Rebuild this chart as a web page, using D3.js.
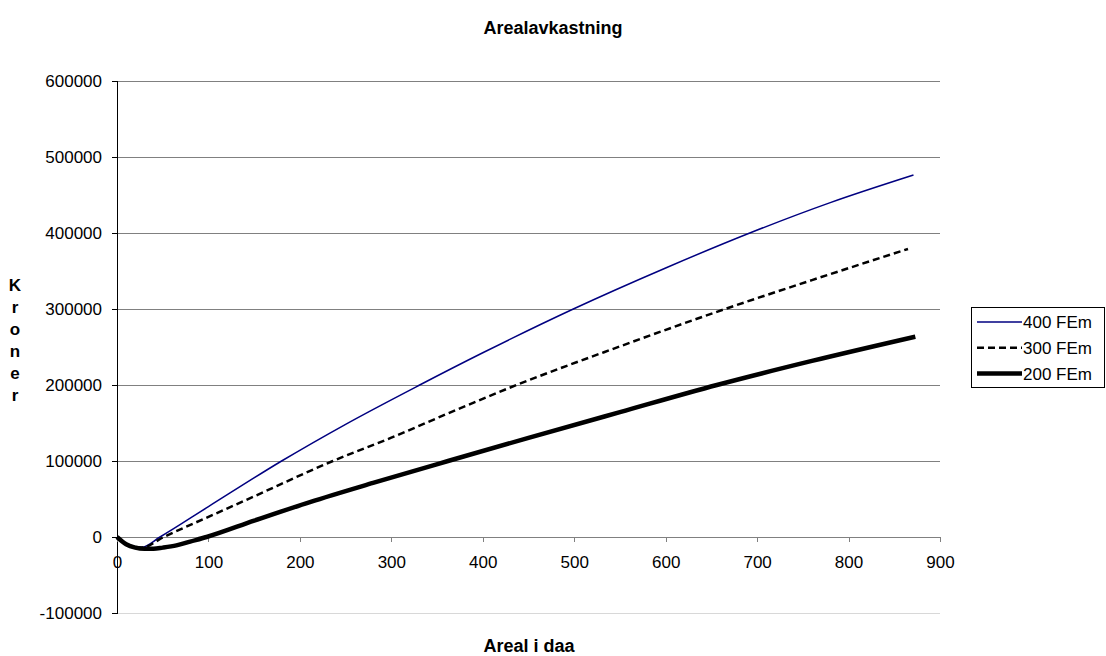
<!DOCTYPE html>
<html><head><meta charset="utf-8">
<script src="https://cdn.jsdelivr.net/npm/d3@7"></script>
<style>body{margin:0;background:#fff}svg{display:block}text{font-family:"Liberation Sans",Arial,sans-serif}</style>
</head><body><svg id="c" width="1106" height="656"></svg>
<script>
const title = "Arealavkastning";
const xTitle = "Areal i daa";
const yTitle = "Kroner";
const xTicks = [0,100,200,300,400,500,600,700,800,900];
const yTicks = [-100000,0,100000,200000,300000,400000,500000,600000];
const seriesNames = ["400 FEm","300 FEm","200 FEm"];
const x400 = [0,10,20,27,47,100,180,250,331,400,499,600,692,780,871];
const y400 = [0,-9000,-13000,-13500,0,40000,100000,148300,200000,242400,300000,354000,400000,440000,476300];
const x300 = [0,10,20,27,51,100,150,236,300,375,437,550,665,760,865];
const y300 = [0,-9000,-13000,-14000,0,26500,53500,100000,130700,169300,200000,250800,300000,338000,379000];
const x200 = [0,10,20,30,40,50,65,80,98,150,211,280,362,450,550,656,760,873];
const y200 = [0,-9500,-14000,-15500,-15500,-14000,-11000,-6000,0,21500,46000,71200,100000,130400,164300,200000,231700,263600];

const svg = d3.select("#c");
const x = d3.scaleLinear().domain([0,900]).range([117,940]);
const y = d3.scaleLinear().domain([-100000,600000]).range([613,81]);
const fmt = v => String(v);

// gridlines
svg.append("g").selectAll("line").data(yTicks.filter(v=>v>-100000)).join("line")
  .attr("x1",x(0)).attr("x2",x(900)).attr("y1",d=>y(d)).attr("y2",d=>y(d))
  .attr("stroke","#808080").attr("stroke-width",1).attr("shape-rendering","crispEdges");
svg.append("line").attr("x1",x(0)).attr("x2",x(900)).attr("y1",y(-100000)).attr("y2",y(-100000))
  .attr("stroke","#d8d8d8").attr("shape-rendering","crispEdges");

// y axis
const ya = svg.append("g").attr("transform",`translate(${x(0)},0)`)
  .call(d3.axisLeft(y).tickValues(yTicks).tickSize(5).tickPadding(10).tickFormat(fmt));
ya.select(".domain").attr("stroke","#000").attr("shape-rendering","crispEdges");
ya.selectAll(".tick line").attr("stroke","#000").attr("shape-rendering","crispEdges");
ya.selectAll("text").attr("font-size",17).attr("fill","#000").style("font-family","Liberation Sans, Arial");

// x axis at y=0
const xa = svg.append("g").attr("transform",`translate(0,${y(0)})`)
  .call(d3.axisBottom(x).tickValues(xTicks).tickSize(5).tickPadding(14).tickFormat(fmt));
xa.select(".domain").attr("stroke","#808080").attr("shape-rendering","crispEdges");
xa.selectAll(".tick line").attr("stroke","#808080").attr("shape-rendering","crispEdges");
xa.selectAll("text").attr("font-size",17).attr("fill","#000").style("font-family","Liberation Sans, Arial");

const line = d3.line().x(d=>x(d[0])).y(d=>y(d[1])).curve(d3.curveMonotoneX);
const s400 = x400.map((v,i)=>[v,y400[i]]);
const s300 = x300.map((v,i)=>[v,y300[i]]);
const s200 = x200.map((v,i)=>[v,y200[i]]);
const styles = [
  {stroke:"#000080", width:1.5, dash:null},
  {stroke:"#000", width:2.5, dash:"7,4"},
  {stroke:"#000", width:4.5, dash:null}
];
[s400,s300,s200].forEach((s,i)=>{
  svg.append("path").datum(s).attr("d",line).attr("fill","none")
    .attr("stroke",styles[i].stroke).attr("stroke-width",styles[i].width)
    .attr("stroke-dasharray",styles[i].dash);
});

// titles
svg.append("text").attr("x",553).attr("y",34).attr("text-anchor","middle")
  .attr("font-size",18).attr("font-weight","bold").text(title);
svg.append("text").attr("x",529).attr("y",652).attr("text-anchor","middle")
  .attr("font-size",18).attr("font-weight","bold").text(xTitle);
svg.append("g").selectAll("text").data(yTitle.split("")).join("text")
  .attr("x",15).attr("y",(d,i)=>291+i*22).attr("text-anchor","middle")
  .attr("font-size",17).attr("font-weight","bold").text(d=>d);

// legend
const lg = svg.append("g");
lg.append("rect").attr("x",971.5).attr("y",307.5).attr("width",133).attr("height",80)
  .attr("fill","#fff").attr("stroke","#000").attr("stroke-width",1);
seriesNames.forEach((n,i)=>{
  const cy = 322 + i*25.8;
  lg.append("line").attr("x1",977).attr("x2",1022).attr("y1",cy).attr("y2",cy)
    .attr("stroke",styles[i].stroke).attr("stroke-width",styles[i].width).attr("stroke-dasharray",styles[i].dash);
  lg.append("text").attr("x",1023).attr("y",cy+6).attr("font-size",17).text(n);
});
</script></body></html>
